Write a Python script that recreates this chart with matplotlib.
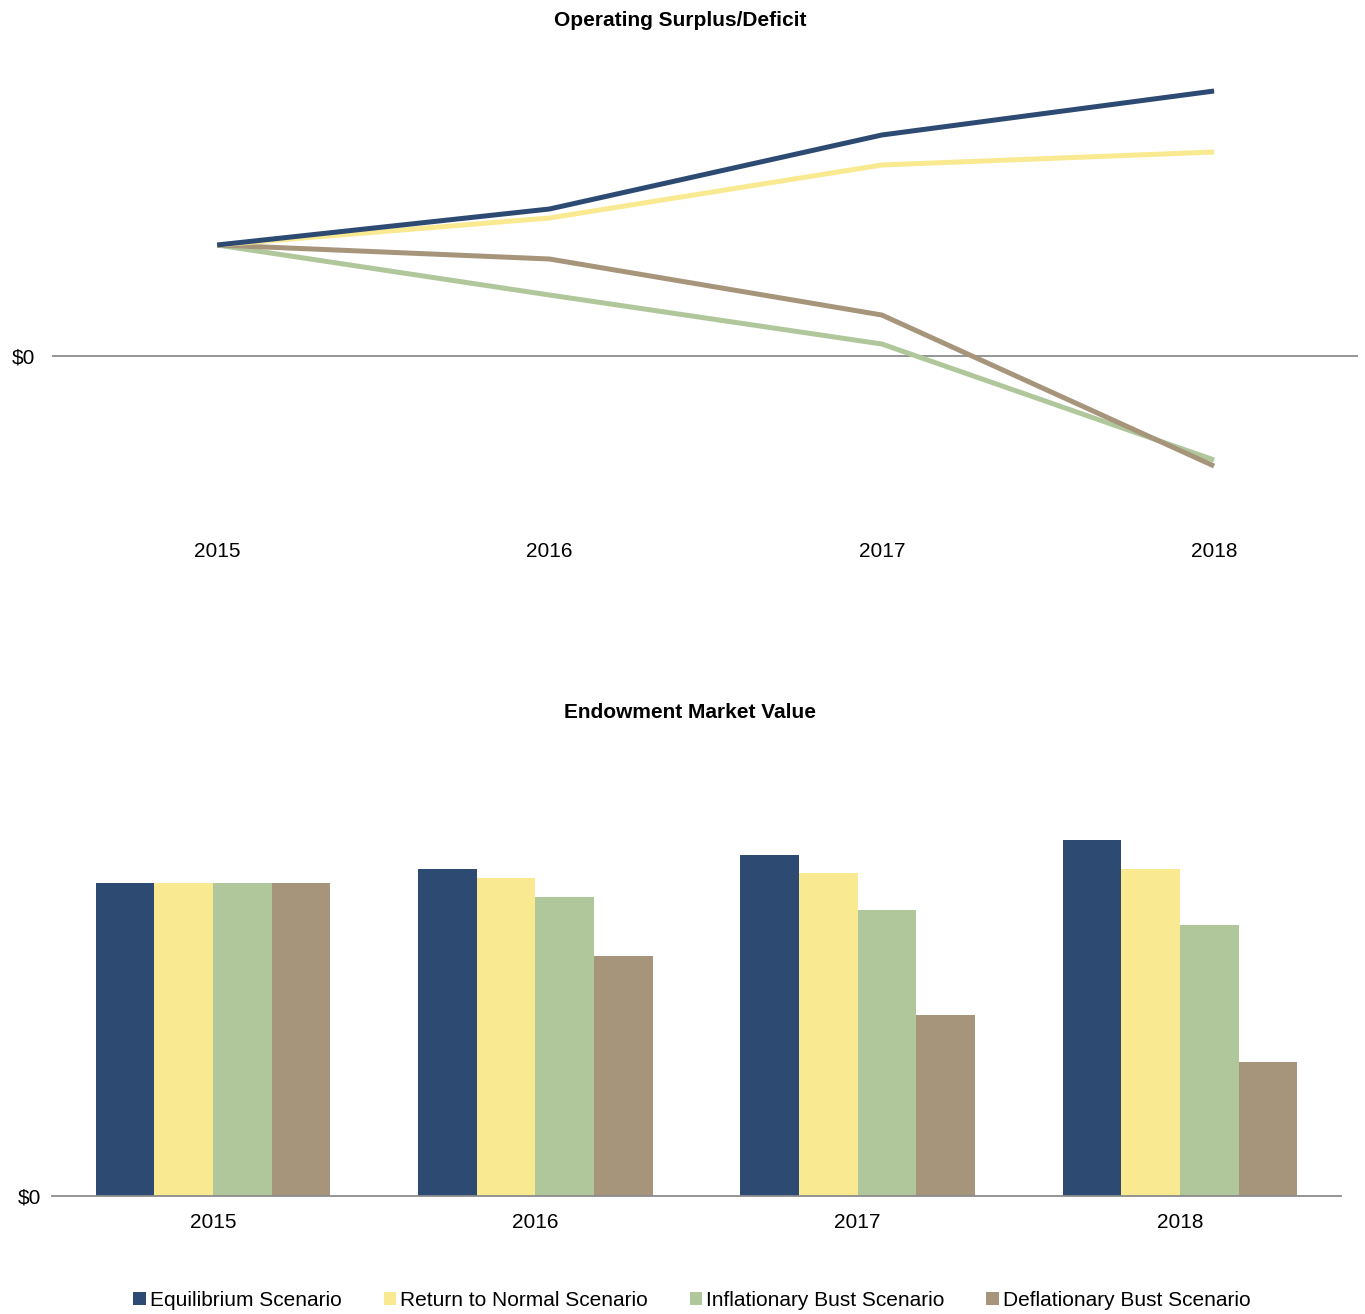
import matplotlib
matplotlib.use("Agg")
import matplotlib.pyplot as plt
from matplotlib.patches import Patch
import numpy as np

plt.rcParams['font.family'] = ['Liberation Sans', 'DejaVu Sans']

years = ['2015', '2016', '2017', '2018']
scenarios = ['Equilibrium Scenario', 'Return to Normal Scenario',
             'Inflationary Bust Scenario', 'Deflationary Bust Scenario']
colors = ['#2D4A73', '#F9EA91', '#B0C79C', '#A6957B']

# operating surplus/deficit (arbitrary units, no scale shown)
surplus_equil = [111, 147, 221, 265]
surplus_normal = [111, 138, 191, 204]
surplus_infl = [111, 61, 12, -104]
surplus_defl = [111, 97, 41, -110]

# endowment market value (arbitrary units)
endow_equil = [313, 327, 341, 356]
endow_normal = [313, 318, 323, 327]
endow_infl = [313, 299, 286, 271]
endow_defl = [313, 240, 181, 134]

W, H = 1365, 1314
fig = plt.figure(figsize=(W / 100, H / 100), dpi=100)

# ---- top: line chart
ax1 = fig.add_axes([52 / W, 1 - 520 / H, (1358 - 52) / W, 480 / H])
x = np.arange(len(years))
# draw order: green, tan, yellow, navy on top
for vals, c in [(surplus_infl, colors[2]), (surplus_defl, colors[3]),
                (surplus_normal, colors[1]), (surplus_equil, colors[0])]:
    ax1.plot(x, vals, color=c, lw=3.6, solid_capstyle='butt')
ax1.axhline(0, color='#8C8C8C', lw=1.3, zorder=0)
ax1.set_xlim(-0.497, 3.433)
ax1.set_ylim(-164, 316)
ax1.set_xticks(x)
ax1.set_xticklabels(years, fontsize=15)
ax1.set_yticks([0])
ax1.set_yticklabels(['$0'], fontsize=15)
ax1.tick_params(axis='x', length=0, pad=16)
ax1.tick_params(axis='y', length=0, pad=12)
for s in ax1.spines.values():
    s.set_visible(False)
fig.text(680 / W, 1 - 21 / H, 'Operating Surplus/Deficit', ha='center', va='center',
         fontsize=15, fontweight='bold')

# ---- bottom: grouped bars
ax2 = fig.add_axes([52 / W, 1 - 1196 / H, (1341 - 52) / W, 456 / H])
bw = 0.182
series = [endow_equil, endow_normal, endow_infl, endow_defl]
for i, (vals, c) in enumerate(zip(series, colors)):
    ax2.bar(x + (i - 1.5) * bw, vals, width=bw, color=c, edgecolor='none')
ax2.set_xlim(-0.5, 3.5)
ax2.set_ylim(0, 456)
ax2.set_xticks(x)
ax2.set_xticklabels(years, fontsize=15)
ax2.set_yticks([0])
ax2.set_yticklabels(['$0'], fontsize=15)
ax2.tick_params(axis='x', length=0, pad=12)
ax2.tick_params(axis='y', length=0, pad=8)
for k, s in ax2.spines.items():
    s.set_visible(k == 'bottom')
ax2.spines['bottom'].set_color('#8C8C8C')
ax2.spines['bottom'].set_linewidth(1.3)
fig.text(690 / W, 1 - 713 / H, 'Endowment Market Value', ha='center', va='center',
         fontsize=15, fontweight='bold')

handles = [Patch(facecolor=c, edgecolor='none') for c in colors]
fig.legend(handles, scenarios, loc='center', bbox_to_anchor=(692 / W, 1 - 1300 / H),
           ncol=4, frameon=False, fontsize=15, handlelength=0.6, handleheight=0.6,
           handletextpad=0.2, columnspacing=2.0)

fig.savefig('out.png', dpi=100)
